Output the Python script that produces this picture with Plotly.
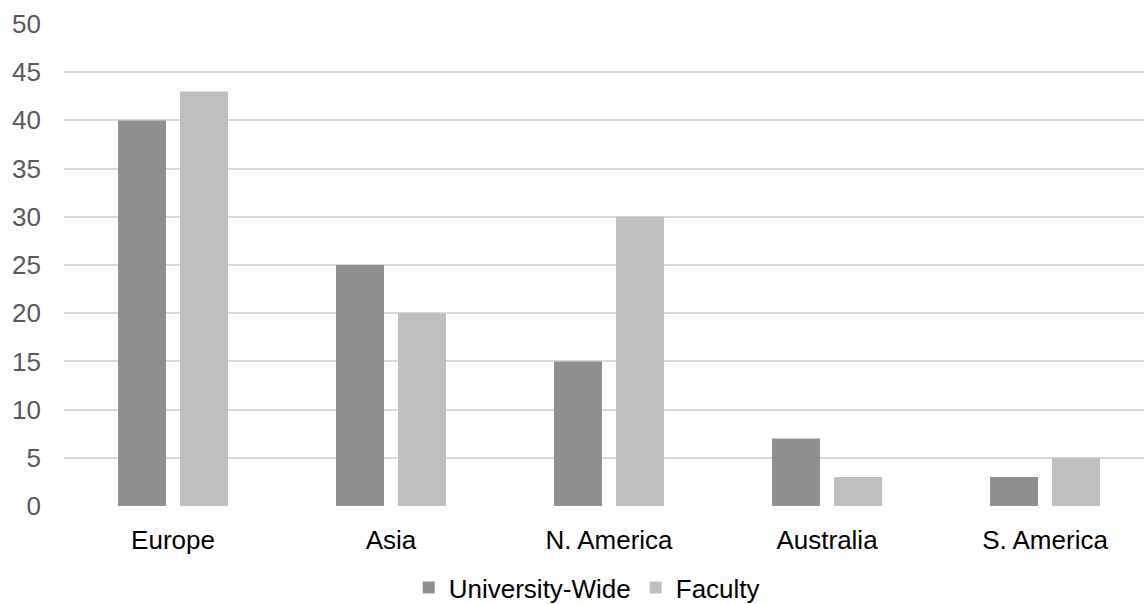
import plotly.graph_objects as go

regions = ["Europe", "Asia", "N. America", "Australia", "S. America"]
university_wide = [40, 25, 15, 7, 3]
faculty = [43, 20, 30, 3, 5]
y_ticks = [0, 5, 10, 15, 20, 25, 30, 35, 40, 45, 50]

fig = go.Figure()
fig.add_trace(go.Bar(name="University-Wide", x=regions, y=university_wide,
                     marker=dict(color="#8f8f8f", line=dict(width=0))))
fig.add_trace(go.Bar(name="Faculty", x=regions, y=faculty,
                     marker=dict(color="#bfbfbf", line=dict(width=0))))

fig.update_layout(
    width=1144, height=604,
    margin=dict(l=64, r=0, t=23, b=97, autoexpand=False),
    paper_bgcolor="white", plot_bgcolor="white",
    barmode="group", bargap=0.431, bargroupgap=0.226,
    font=dict(family="Liberation Sans, Arial, sans-serif", color="#000000"),
    showlegend=True,
    legend=dict(orientation="h", x=0.484, xanchor="center",
                yref="container", y=0.027, yanchor="middle",
                font=dict(size=26, color="#000000"), itemsizing="constant",
                itemwidth=30, traceorder="normal"),
)
fig.update_xaxes(range=[-0.5, 4.454], showgrid=False, showline=False, zeroline=False,
                 ticks="", tickfont=dict(size=26, color="#000000"), ticklabelstandoff=15)
fig.update_yaxes(range=[-0.1, 50.1], tickvals=y_ticks, showgrid=True, gridcolor="#d9d9d9",
                 gridwidth=2, zeroline=False, showline=False, ticks="",
                 tickfont=dict(size=26, color="#595959"), ticklabelstandoff=22)

fig.write_html("out.html")
